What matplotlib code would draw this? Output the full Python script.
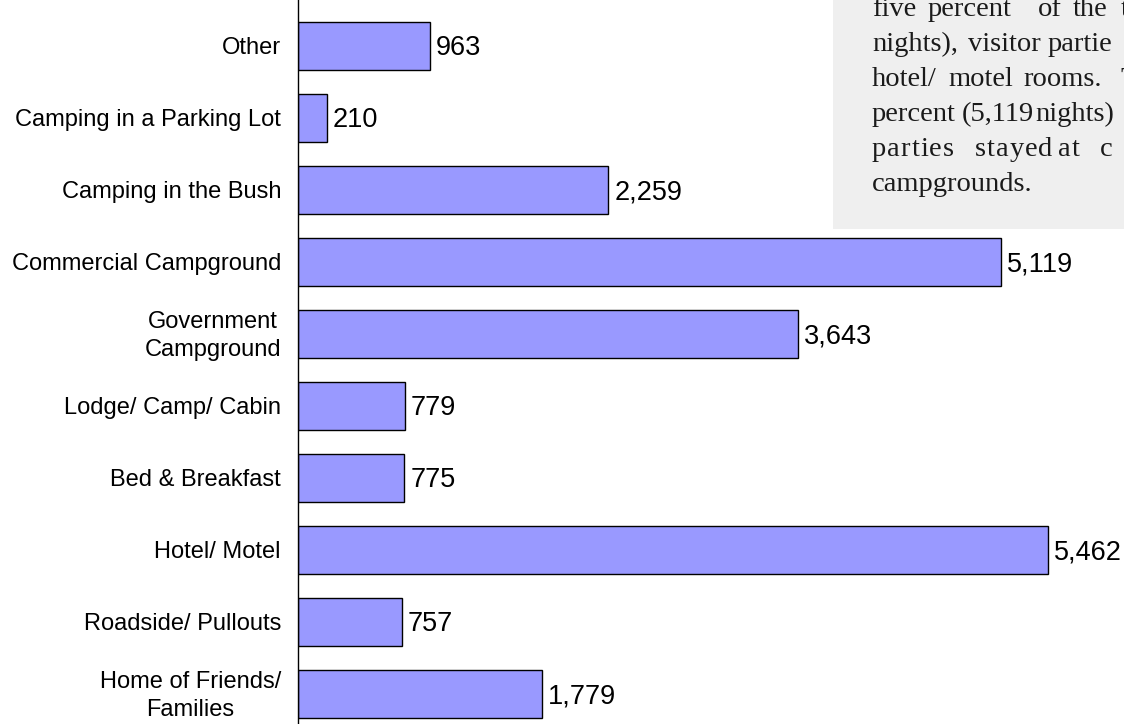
import matplotlib
matplotlib.use("Agg")
import matplotlib.pyplot as plt
from matplotlib.patches import Rectangle

# Nights stayed by type of lodging
categories = [
    "Other",
    "Camping in a Parking Lot",
    "Camping in the Bush",
    "Commercial Campground",
    "Government\nCampground",
    "Lodge/ Camp/ Cabin",
    "Bed & Breakfast",
    "Hotel/ Motel",
    "Roadside/ Pullouts",
    "Home of Friends/\nFamilies",
]
nights = [963, 210, 2259, 5119, 3643, 779, 775, 5462, 757, 1779]

# Text box lines (each line as a list of words, justified by hand)
note_lines = [
    ["five", "percent", "of", "the", "t"],
    ["nights),", "visitor", "partie"],
    ["hotel/", "motel", "rooms.", "T"],
    ["percent", "(5,119", "nights)"],
    ["parties", "stayed", "at", "c"],
    ["campgrounds."],
]
note_word_x = [
    [872, 928, 1038, 1073, 1121],
    [872, 968, 1048],
    [872, 948, 1023, 1120],
    [872, 962, 1035],
    [872, 975, 1058, 1100],
    [872],
]
# extra letter spacing (px) for the loosely justified line
note_tracking = [0, 0, 0, 0, 1.0, 0]

W, H = 1124, 724
fig = plt.figure(figsize=(W / 100, H / 100), dpi=100)
fig.patch.set_facecolor("white")

ax_left = 298
ax = fig.add_axes([ax_left / W, 0, (W - ax_left) / W, 1])
px_per_unit = 750 / 5462
ax.set_xlim(0, (W - ax_left) / px_per_unit)
ax.set_ylim(9 + 30 / 72, -46 / 72)

pos = list(range(len(categories)))
ax.barh(pos, nights, height=48 / 72, color="#9999ff", edgecolor="black",
        linewidth=1.0, zorder=2)

dy = 2 / 72
for y, v in zip(pos, nights):
    ax.text(v + 6 / px_per_unit, y + dy, f"{v:,}", ha="left", va="center",
            fontsize=19.5, family="Liberation Sans", color="black")

for y, lab in zip(pos, categories):
    ax.text(-17 / px_per_unit, y + dy, lab, ha="right", va="center",
            multialignment="center", fontsize=17, family="Liberation Sans",
            linespacing=1.3, color="black", clip_on=False)

for s in ["top", "right", "bottom"]:
    ax.spines[s].set_visible(False)
ax.spines["left"].set_linewidth(1.0)
ax.set_xticks([])
ax.set_yticks([])
ax.patch.set_alpha(0)

# grey note box in the upper right
fig.patches.append(Rectangle((833 / W, 1 - 229 / H), (W - 833) / W, 229 / H,
                             transform=fig.transFigure, facecolor="#efefef",
                             edgecolor="none", zorder=5))
fig.canvas.draw()
renderer = fig.canvas.get_renderer()
for i, (words, xs) in enumerate(zip(note_lines, note_word_x)):
    base = 16 + 35 * i
    for w, x in zip(words, xs):
        if note_tracking[i] == 0:
            fig.text(x / W, 1 - base / H, w, ha="left", va="baseline",
                     fontsize=20.5, family="Liberation Serif",
                     color="#1a1a1a", zorder=6)
            continue
        # draw letter by letter to widen the spacing
        cx = x
        for ch in w:
            t = fig.text(cx / W, 1 - base / H, ch, ha="left", va="baseline",
                         fontsize=20.5, family="Liberation Serif",
                         color="#1a1a1a", zorder=6)
            cx += t.get_window_extent(renderer).width + note_tracking[i]

fig.savefig("out.png", dpi=100)
